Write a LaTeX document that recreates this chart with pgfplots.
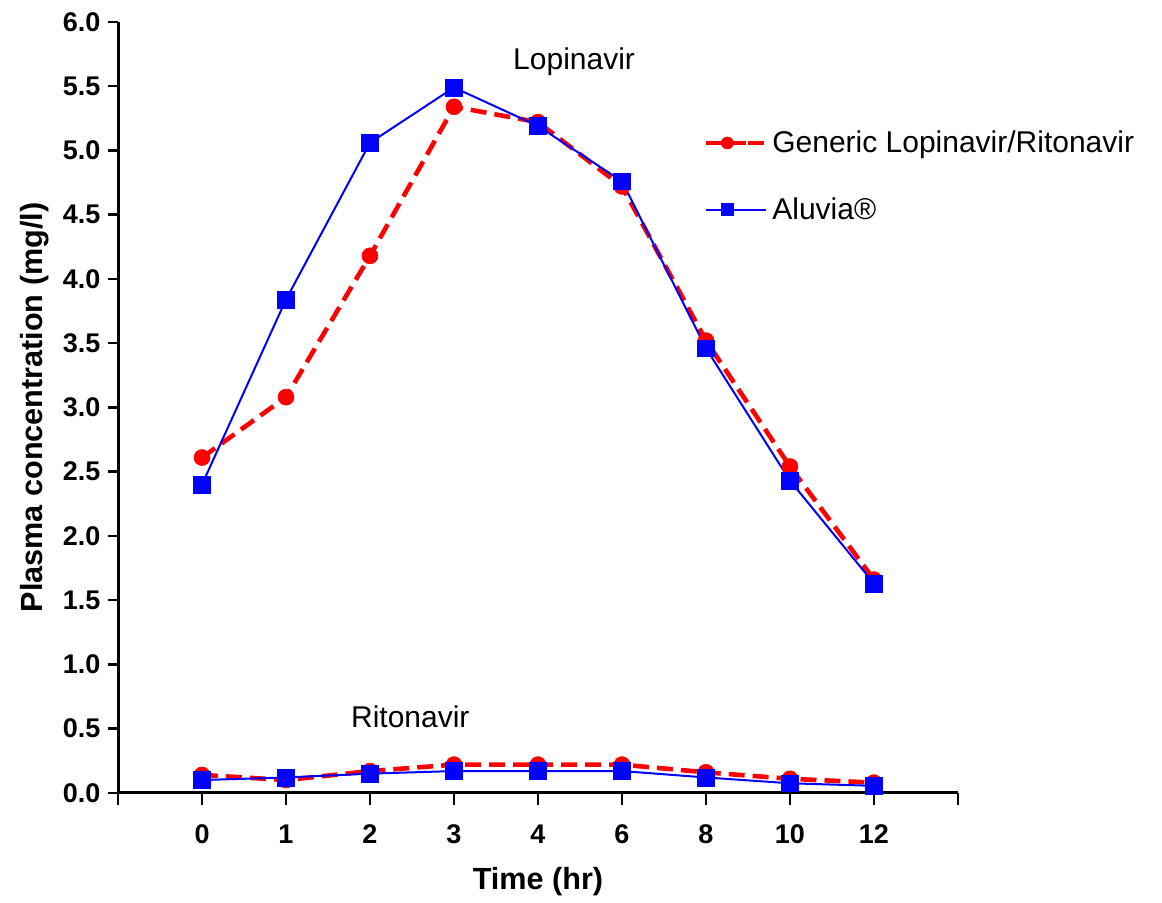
\documentclass[border=0pt]{standalone}
\usepackage{pgfplots}
\pgfplotsset{compat=1.18}
\usepackage{fontspec}
\setmainfont{Liberation Sans}

% x positions 0..8 are the sampling times 0,1,2,3,4,6,8,10,12 h
\pgfplotstableread{
pos lopgen lopalu ritgen ritalu
0   2.61   2.40   0.14   0.10
1   3.08   3.84   0.10   0.12
2   4.18   5.06   0.17   0.15
3   5.34   5.49   0.22   0.17
4   5.22   5.19   0.22   0.17
5   4.72   4.76   0.22   0.17
6   3.52   3.46   0.16   0.12
7   2.54   2.43   0.11   0.075
8   1.66   1.63   0.08   0.055
}\pk

\begin{document}
\begin{tikzpicture}
\begin{axis}[
    width=420pt, height=385.5pt, scale only axis,
    xmin=-1, xmax=9, ymin=0, ymax=6,
    axis lines*=left,
    axis line style={line width=1.5pt},
    xtick={-1,0,...,9},
    xticklabels={,0,1,2,3,4,6,8,10,12,},
    ytick={0,0.5,...,6},
    tick align=outside,
    tick style={line width=1.2pt, black},
    xtick style={/pgfplots/major tick length=6pt},
    ytick style={/pgfplots/major tick length=5pt},
    /pgf/number format/assume math mode=true,
    yticklabel style={xshift=-1pt, /pgf/number format/.cd, fixed, fixed zerofill, precision=1},
    ticklabel style={font=\fontsize{13.5}{15}\selectfont\bfseries},
    xticklabel style={yshift=-8pt},
    xlabel={Time (hr)},
    ylabel={Plasma concentration (mg/l)},
    label style={font=\fontsize{15.3}{17}\selectfont\bfseries},
    xlabel style={yshift=-5pt},
    clip=false,
    legend style={draw=none, fill=none, at={(rel axis cs:0.69,0.87)}, anchor=north west,
        font=\fontsize{15}{17}\selectfont, row sep=17pt, cells={anchor=west}},
    legend image code/.code={
        \draw[#1] (0cm,0cm) -- (0.74cm,0cm);
        \draw[#1, only marks, mark size=3pt] plot coordinates {(0.37cm,0cm)};
        \path (0.74cm,0cm) -- (1.05cm,0cm);
    },
]
\addplot[red, line width=2.3pt, dash pattern=on 8pt off 4pt, mark=*, mark size=4pt,
    mark options={solid, line width=0.3pt}] table[x=pos, y=lopgen] {\pk};
\addlegendentry{Generic Lopinavir/Ritonavir}
\addplot[blue, line width=1pt, mark=square*, mark size=4.2pt,
    mark options={line width=0.3pt}] table[x=pos, y=lopalu] {\pk};
\addlegendentry{Aluvia®}
\addplot[red, line width=2.3pt, dash pattern=on 8pt off 4pt, mark=*, mark size=4pt,
    mark options={solid, line width=0.3pt}, forget plot] table[x=pos, y=ritgen] {\pk};
\addplot[blue, line width=1pt, mark=square*, mark size=4.2pt,
    mark options={line width=0.3pt}, forget plot] table[x=pos, y=ritalu] {\pk};
\node[font=\fontsize{15}{17}\selectfont] at (axis cs:4.43,5.69) {Lopinavir};
\node[font=\fontsize{15}{17}\selectfont] at (axis cs:2.48,0.59) {Ritonavir};
\coordinate (bl) at (rel axis cs:-0.1405,-0.1414);
\coordinate (tr) at (rel axis cs:1.2429,1.0285);
\end{axis}
\useasboundingbox (bl) rectangle (tr);
\end{tikzpicture}
\end{document}
